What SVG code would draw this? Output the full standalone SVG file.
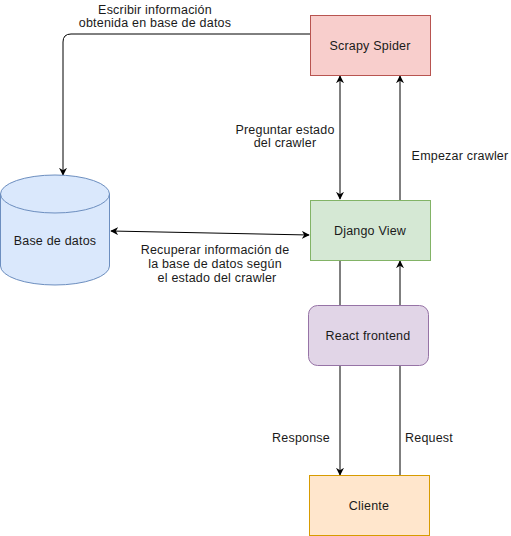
<svg xmlns="http://www.w3.org/2000/svg" width="511" height="536" viewBox="0 0 511 536">
<style>
text{font-family:"Liberation Sans",Arial,sans-serif;font-size:12.5px;letter-spacing:0.2px;fill:#1a1a1a;text-anchor:middle}
.e{fill:none;stroke:#000;stroke-width:1}
</style>
<defs>
<marker id="ah" viewBox="0 0 10 10" refX="9" refY="5" markerWidth="8" markerHeight="8" markerUnits="userSpaceOnUse" orient="auto-start-reverse">
<path d="M0,0 L10,5 L0,10 L3,5 Z" fill="#000"/>
</marker>
</defs>
<rect width="511" height="536" fill="#fff"/>
<g id="connectors">
<path class="e" d="M310,34 H71 Q63,34 63,42 V175" marker-end="url(#ah)"/>
<path class="e" d="M340,76 V199" marker-start="url(#ah)" marker-end="url(#ah)"/>
<path class="e" d="M400,200 V76" marker-end="url(#ah)"/>
<path class="e" d="M111,231 L309,235" marker-start="url(#ah)" marker-end="url(#ah)"/>
<path class="e" d="M340,260 V475" marker-end="url(#ah)"/>
<path class="e" d="M400,475 V261" marker-end="url(#ah)"/>
<text x="155" y="14">Escribir información</text>
<text x="155" y="27">obtenida en base de datos</text>
<text x="285" y="134">Preguntar estado</text>
<text x="285" y="147">del crawler</text>
<text x="460" y="160">Empezar crawler</text>
<text x="215" y="254">Recuperar información de</text>
<text x="215" y="268">la base de datos según</text>
<text x="217" y="282">el estado del crawler</text>
<text x="301" y="442">Response</text>
<text x="429" y="442">Request</text>
</g>
<g id="scrapy">
<rect x="310.5" y="15.5" width="120" height="60" fill="#f8cecc" stroke="#b85450"/>
<text x="370" y="50">Scrapy Spider</text>
</g>
<g id="django">
<rect x="310.5" y="200.5" width="120" height="60" fill="#d5e8d4" stroke="#82b366"/>
<text x="370" y="235">Django View</text>
</g>
<g id="react">
<rect x="308.5" y="305.5" width="120" height="60" rx="9" fill="#e1d5e7" stroke="#9673a6"/>
<text x="368" y="340">React frontend</text>
</g>
<g id="cliente">
<rect x="309.5" y="475.5" width="120" height="60" fill="#ffe6cc" stroke="#d79b00"/>
<text x="369" y="510">Cliente</text>
</g>
<g id="db">
<path d="M0.5,194 A54.5,19 0 0 1 109.5,194 V266 A54.5,19 0 0 1 0.5,266 Z" fill="#dae8fc" stroke="#6c8ebf"/>
<path d="M0.5,194 A54.5,19 0 0 0 109.5,194" fill="none" stroke="#6c8ebf"/>
<text x="55" y="245">Base de datos</text>
</g>
</svg>
